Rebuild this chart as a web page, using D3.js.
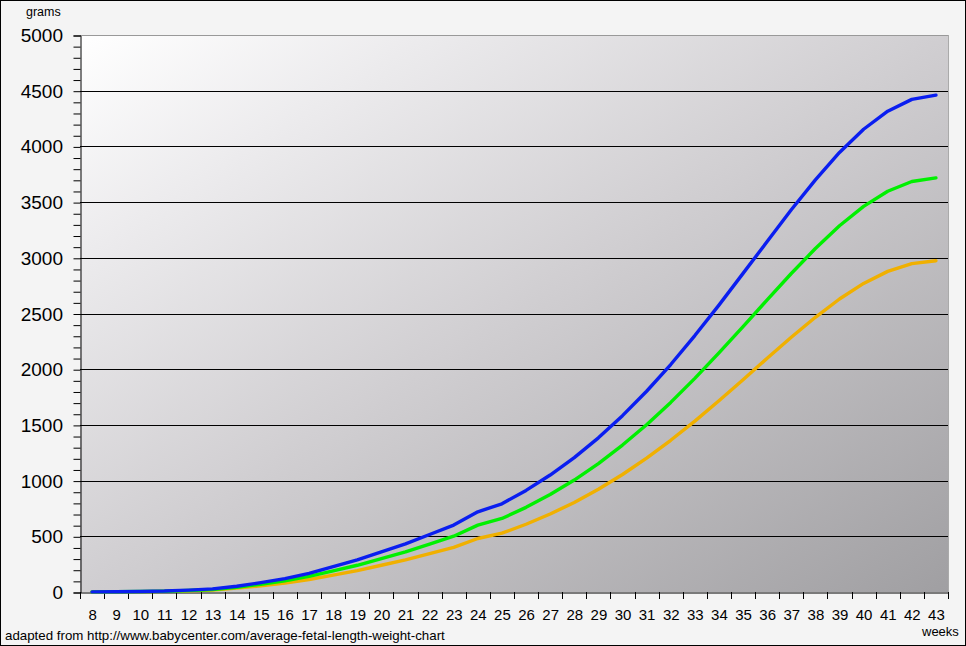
<!DOCTYPE html>
<html><head><meta charset="utf-8">
<script src="https://cdn.jsdelivr.net/npm/d3@7"></script>
<style>body{margin:0;background:#fff}svg{display:block;font-family:Arial,"Liberation Sans",sans-serif}</style>
</head><body>
<script>
const weeks = [8,9,10,11,12,13,14,15,16,17,18,19,20,21,22,23,24,25,26,27,28,29,30,31,32,33,34,35,36,37,38,39,40,41,42,43];
const highWeight = [1.2,2.4,4.8,8.4,16.8,27.6,51.6,84,120,168,228,288,360,432,516,601,720,792,912,1050,1206,1384,1583,1802,2042,2302,2575,2860,3146,3431,3700,3946,4154,4316,4422,4460];
const avgWeight = [1,2,4,7,14,23,43,70,100,140,190,240,300,360,430,501,600,660,760,875,1005,1153,1319,1502,1702,1918,2146,2383,2622,2859,3083,3288,3462,3597,3685,3717];
const lowWeight = [0.8,1.6,3.2,5.6,11.2,18.4,34.4,56,80,112,152,192,240,288,344,401,480,528,608,700,804,922,1055,1202,1362,1534,1717,1906,2098,2287,2466,2630,2770,2878,2948,2974];
const yTicks = [0,500,1000,1500,2000,2500,3000,3500,4000,4500,5000];
const minorTicks = d3.range(0,5001,100);
const seriesList = [
  {name:"low", values: lowWeight, color:"#f0b000"},
  {name:"average", values: avgWeight, color:"#00f000"},
  {name:"high", values: highWeight, color:"#0a1ef0"}
];

const W=966,H=646;
const L=80,R=948,T=35,B=592;
const svg=d3.select("body").append("svg").attr("width",W).attr("height",H);
const defs=svg.append("defs");
const g=defs.append("linearGradient").attr("id","bg").attr("x1","0").attr("y1","0").attr("x2","1").attr("y2","1");
g.append("stop").attr("offset","0").attr("stop-color","#ffffff");
g.append("stop").attr("offset","0.2").attr("stop-color","#ecebed");
g.append("stop").attr("offset","0.5").attr("stop-color","#d0ced1");
g.append("stop").attr("offset","1").attr("stop-color","#a09fa2");

svg.append("rect").attr("x",0.5).attr("y",0.5).attr("width",W-1).attr("height",H-1).attr("fill","#f4f4f4").attr("stroke","#000");

const x=d3.scaleBand().domain(weeks).range([L,R]);
const y=d3.scaleLinear().domain([0,5000]).range([B,T]);

svg.append("rect").attr("x",L).attr("y",T).attr("width",R-L).attr("height",B-T).attr("fill","url(#bg)");
svg.append("line").attr("x1",L).attr("x2",R).attr("y1",T+0.5).attr("y2",T+0.5).attr("stroke","#999");
svg.append("line").attr("x1",R+0.5).attr("x2",R+0.5).attr("y1",T).attr("y2",B).attr("stroke","#aaa");

// gridlines
svg.append("g").selectAll("line").data(yTicks.filter(d=>d>0&&d<5000)).join("line")
  .attr("x1",L).attr("x2",R).attr("y1",d=>Math.round(y(d))+0.5).attr("y2",d=>Math.round(y(d))+0.5)
  .attr("stroke","#000").attr("stroke-width",1);

// y axis
const ya=svg.append("g").attr("transform",`translate(${L+0.5},0.5)`)
  .call(d3.axisLeft(y).tickValues(minorTicks).tickSize(7).tickFormat(""));
ya.select(".domain").attr("stroke","#000");
ya.selectAll(".tick line").attr("stroke","#000");
svg.append("g").selectAll("text").data(yTicks).join("text")
  .attr("x",63).attr("y",d=>y(d)+7).attr("text-anchor","end")
  .attr("font-size",19).attr("fill","#000").text(d=>d);

// x axis
const xa=svg.append("g").attr("transform",`translate(0.5,${B+0.5})`)
  .call(d3.axisBottom(x).tickSize(0).tickPadding(17).tickFormat(d=>d));
xa.select(".domain").attr("stroke","#000");
xa.selectAll(".tick text").attr("font-size",15).attr("fill","#000").attr("font-family","Arial,'Liberation Sans',sans-serif");
svg.append("g").selectAll("line").data(weeks.concat([null])).join("line")
  .attr("x1",(d,i)=>Math.round(L+i*x.step())+0.5).attr("x2",(d,i)=>Math.round(L+i*x.step())+0.5)
  .attr("y1",B).attr("y2",B+7).attr("stroke","#000");

// lines
const line=d3.line().x((d,i)=>x(weeks[i])+x.bandwidth()/2).y(d=>y(d));
svg.append("g").selectAll("path").data(seriesList).join("path")
  .attr("d",d=>line(d.values)).attr("fill","none").attr("stroke",d=>d.color)
  .attr("stroke-width",3.4).attr("stroke-linejoin","round").attr("stroke-linecap","round");

svg.append("text").attr("x",26).attr("y",16).attr("font-size",12.5).text("grams");
svg.append("text").attr("x",922).attr("y",636).attr("font-size",13).text("weeks");
svg.append("text").attr("x",5).attr("y",640).attr("font-size",13.3).text("adapted from http://www.babycenter.com/average-fetal-length-weight-chart");
</script>
</body></html>
